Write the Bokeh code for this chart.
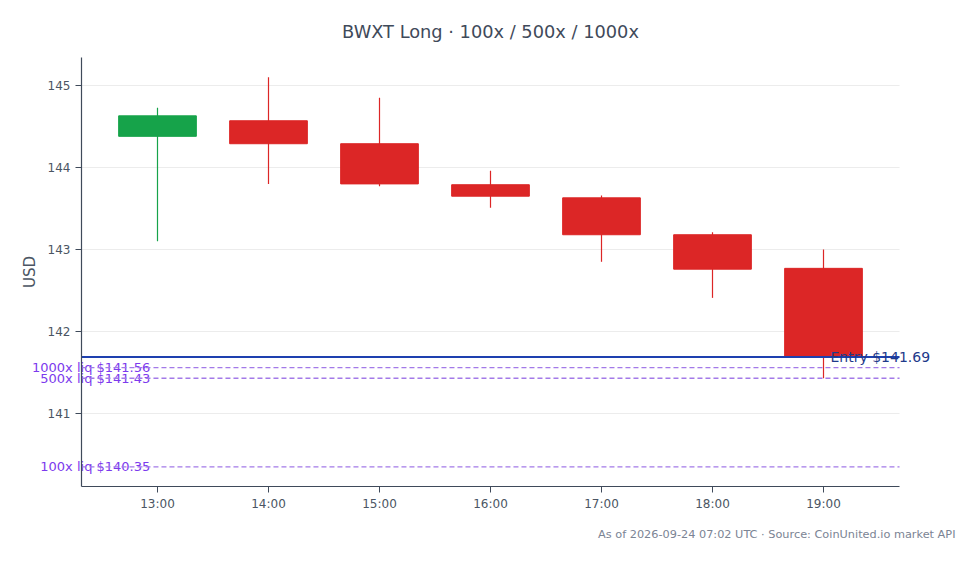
import math
import pandas as pd
from bokeh.plotting import figure
from bokeh.core.properties import value
from bokeh.models import ColumnDataSource, Label, FixedTicker, DatetimeTickFormatter, Range1d
from bokeh.embed import file_html
from bokeh.resources import INLINE

# hourly candles
hours = ["13:00", "14:00", "15:00", "16:00", "17:00", "18:00", "19:00"]
opens = [144.38, 144.57, 144.29, 143.79, 143.63, 143.18, 142.77]
closes = [144.63, 144.29, 143.80, 143.65, 143.18, 142.76, 141.70]
highs = [144.73, 145.10, 144.85, 143.96, 143.66, 143.21, 143.00]
lows = [143.10, 143.80, 143.77, 143.51, 142.85, 142.41, 141.43]
y_ticks = [141, 142, 143, 144, 145]

entry_price = 141.69
liq_names = ["1000x", "500x", "100x"]
liq_prices = [141.56, 141.43, 140.35]

FONT = "DejaVu Sans"
GREEN = "#16a34a"
RED = "#dc2626"
AXIS = "#3f4a5a"

times = pd.to_datetime(["2026-09-23 " + h for h in hours])
H = pd.Timedelta(hours=1)
hour_ms = 3600 * 1000
t0, t_last = times[0], times[-1]


def ms(t):
    return t.value / 10**6


# plotting area (where the axes sit) and the whole canvas around it;
# the frame covers the canvas so that no text gets clipped
x_lo, x_hi = t0 - 0.685 * H, t_last + 0.685 * H
y_lo, y_hi = 140.11, 145.34
canvas_x = (t0 - 1.4144 * H, t0 + 7.4054 * H)
canvas_y = (139.1585, 146.0366)

src = ColumnDataSource(dict(
    t=times,
    top=[max(o, c) for o, c in zip(opens, closes)],
    bottom=[min(o, c) for o, c in zip(opens, closes)],
    high=highs,
    low=lows,
    color=[GREEN if c >= o else RED for o, c in zip(opens, closes)],
))

p = figure(width=979, height=564, x_axis_type="datetime",
           x_range=Range1d(*canvas_x), y_range=Range1d(*canvas_y),
           output_backend="svg", toolbar_location=None, tools="",
           min_border_left=0, min_border_right=0, min_border_top=0, min_border_bottom=0)

# horizontal grid, limited to the plotting area
p.segment(x0=[x_lo] * len(y_ticks), x1=[x_hi] * len(y_ticks), y0=y_ticks, y1=y_ticks,
          line_color="#ececec", line_width=1)

p.segment(x0="t", x1="t", y0="low", y1="high", color="color", line_width=1.2, source=src)
p.vbar(x="t", width=0.7 * hour_ms, top="top", bottom="bottom",
       fill_color="color", line_color="color", source=src)

# liquidation labels sit under their dashed lines
p.text(x=[t0 - 0.065 * H] * 3, y=liq_prices,
       text=[f"{n} liq ${v:.2f}" for n, v in zip(liq_names, liq_prices)],
       text_align="right", text_baseline="middle", text_font=value(FONT),
       text_font_size="13px", text_color="#7c3aed")
p.segment(x0=[x_lo] * 3, x1=[x_hi] * 3, y0=liq_prices, y1=liq_prices,
          line_color="#a37ae8", line_width=1.3, line_dash="5 3")
p.segment(x0=[x_lo], x1=[x_hi], y0=[entry_price], y1=[entry_price],
          line_color="#1e40af", line_width=2)

p.add_layout(Label(x=t_last + 0.063 * H, y=entry_price, text=f"Entry ${entry_price:.2f}",
                   text_align="left", text_baseline="middle", text_font=FONT,
                   text_font_size="14px", text_color="#1e3a8a"))

p.add_layout(Label(x=x_lo + (x_hi - x_lo) / 2, y=145.66, text="BWXT Long · 100x / 500x / 1000x",
                   text_align="center", text_baseline="middle", text_font=FONT,
                   text_font_size="17.8px", text_color=AXIS))
p.add_layout(Label(x=t_last + 1.189 * H, y=139.52,
                   text="As of 2026-09-24 07:02 UTC · Source: CoinUnited.io market API",
                   text_align="right", text_baseline="middle", text_font=FONT,
                   text_font_size="11.3px", text_color="#7b8494"))
p.add_layout(Label(x=t0 - 1.146 * H, y=(y_lo + y_hi) / 2, text="USD", angle=math.pi / 2,
                   text_align="center", text_baseline="middle", text_font=FONT,
                   text_font_size="15px", text_color="#4b5563"))

xax = p.xaxis[0]
yax = p.yaxis[0]
xax.fixed_location = y_lo
xax.bounds = (ms(x_lo), ms(x_hi))
xax.ticker = FixedTicker(ticks=[ms(t) for t in times])
xax.formatter = DatetimeTickFormatter(hours="%H:%M", minutes="%H:%M", days="%H:%M")
yax.fixed_location = ms(x_lo)
yax.bounds = (y_lo, y_hi)
yax.ticker = FixedTicker(ticks=y_ticks)

for ax in (xax, yax):
    ax.axis_line_color = AXIS
    ax.axis_line_width = 1.2
    ax.major_tick_line_color = AXIS
    ax.minor_tick_line_color = None
    ax.major_tick_out = 6
    ax.major_tick_in = 0
    ax.major_label_standoff = 5
    ax.major_label_text_font = FONT
    ax.major_label_text_font_size = "12px"
    ax.major_label_text_color = "#4b5563"

p.xgrid.visible = False
p.ygrid.visible = False
p.outline_line_color = None
p.background_fill_color = "white"
p.border_fill_color = "white"

open("out.html", "w").write(file_html(p, INLINE))
